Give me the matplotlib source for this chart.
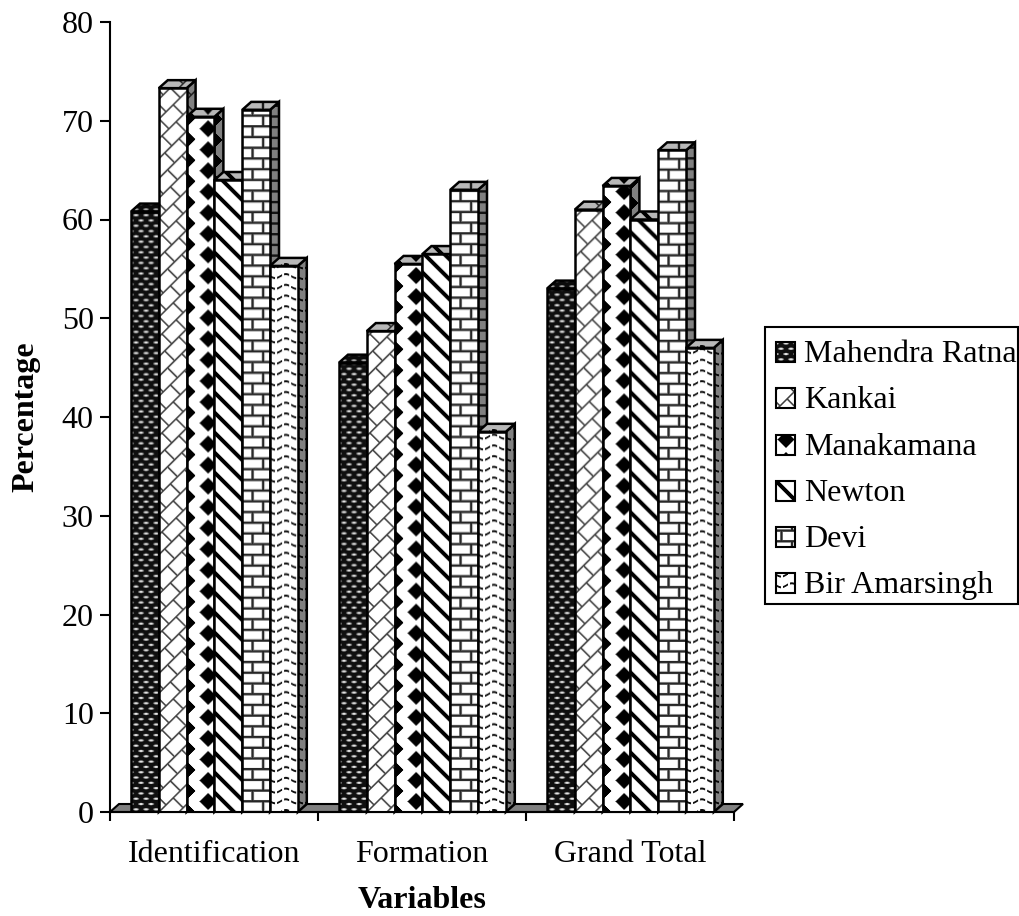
import numpy as np
import matplotlib
matplotlib.use('Agg')
import matplotlib.pyplot as plt
from matplotlib.patches import Polygon, Rectangle

plt.rcParams['font.family'] = ['Liberation Serif', 'DejaVu Serif']

categories = ["Identification", "Formation", "Grand Total"]
schools = ["Mahendra Ratna", "Kankai", "Manakamana", "Newton", "Devi", "Bir Amarsingh"]

mahendra_ratna = [60.8, 45.5, 53.0]
kankai = [73.3, 48.7, 61.0]
manakamana = [70.4, 55.5, 63.4]
newton = [64.0, 56.5, 60.0]
devi = [71.1, 63.0, 67.0]
bir_amarsingh = [55.3, 38.5, 47.0]

series = [mahendra_ratna, kankai, manakamana, newton, devi, bir_amarsingh]
y_ticks = [0, 10, 20, 30, 40, 50, 60, 70, 80]

W, H = 1019, 916
LEFT, RIGHT, BASE, TOP = 110, 734, 812, 22
px_x = (RIGHT - LEFT) / 3
px_y = (BASE - TOP) / 80
bar_w = 27.8 / px_x
group_start = 21 / px_x
dx = 9 / px_x
dy = 8 / px_y
LW = 1.5
BAR_LW = 1.8


def soft(d, half):
    # antialiased band: 1 inside distance half, 0 outside
    return np.clip(half - d + 0.5, 0, 1)


def wrap(x, step):
    # distance to the nearest multiple of step
    m = x % step
    return np.minimum(m, step - m)


def texture(kind, nx, ny, u0=0, v0=0):
    # grey levels for one fill pattern, 1 px per sample, row 0 at the bottom
    u, v = np.meshgrid(np.arange(nx) + 0.5 + u0, np.arange(ny) + 0.5 + v0)
    if kind == "dots":
        row = np.floor(v / 5.3)
        cu = (u + 5 * (row % 2)) % 10 - 5
        cv = v % 5.3 - 2.65
        return 0.06 + 0.94 * soft(np.sqrt((cu / 2.4) ** 2 + (cv / 1.1) ** 2), 1) * 0.9
    if kind == "trellis":
        a = (u + v) / np.sqrt(2)
        b = (u - v) / np.sqrt(2)
        step = 14
        long_line = soft(wrap(b, step), 0.8)
        band = np.floor(b / step)
        cross = soft(wrap(a + 10 * (band % 2), 20), 0.8)
        return 1 - 0.75 * np.maximum(long_line, cross)
    if kind == "diamonds":
        d1 = np.abs(wrap(u, 42)) + np.abs(wrap(v, 21))
        d2 = np.abs(wrap(u - 21, 42)) + np.abs(wrap(v - 10.5, 21))
        return 1 - soft(np.minimum(d1, d2), 8.5)
    if kind == "stripes":
        return 1 - soft(wrap(u + v, 20), 2.8)
    if kind == "bricks":
        row_h = 10.7
        row = np.floor(v / row_h)
        horiz = soft(wrap(v, row_h), 1.2)
        vert = soft(wrap(u + 10.5 * (row % 2), 21), 1.2)
        return 1 - 0.85 * np.maximum(horiz, vert)
    if kind == "waves":
        row_h = 10.7
        wave = 2.0 * np.sin(2 * np.pi * u / 21)
        line = soft(wrap(v + wave, row_h), 1.0)
        dash = (u % 7 < 5.2) * 1.0
        return 1 - 0.95 * line * dash
    return np.ones_like(u)


def put_texture(ax, kind, x0, y0, w, h, clip, shade, z):
    nx = int(np.ceil(w * px_x)) + 1
    ny = int(np.ceil(h * px_y)) + 1
    img = ax.imshow(texture(kind, nx, ny) * shade, cmap="gray", vmin=0, vmax=1,
                    origin="lower", aspect="auto", interpolation="bilinear",
                    extent=(x0, x0 + nx / px_x, y0, y0 + ny / px_y), zorder=z)
    img.set_clip_path(clip)


kinds = ["dots", "trellis", "diamonds", "stripes", "bricks", "waves"]
key_shift = [(0, 0), (3, 5), (11, -5), (0, 0), (5, 5), (0, 3)]

fig = plt.figure(figsize=(W / 100, H / 100), dpi=100)
ax = fig.add_axes([LEFT / W, 1 - BASE / H, (RIGHT - LEFT) / W, (BASE - TOP) / H])

# floor of the pseudo-3D plot
ax.add_patch(Polygon([(0, 0), (dx, dy), (3 + dx, dy), (3, 0)], closed=True, facecolor="#808080",
                     edgecolor="black", linewidth=LW, zorder=1, clip_on=False))

z = 2
for i, values in enumerate(series):
    for g, value in enumerate(values):
        x = g + group_start + i * bar_w
        base = z + g * 20 + i * 4

        side = Polygon([(x + bar_w, 0), (x + bar_w + dx, dy), (x + bar_w + dx, value + dy), (x + bar_w, value)],
                       closed=True, facecolor="#808080", edgecolor="none", zorder=base, clip_on=False)
        ax.add_patch(side)
        put_texture(ax, kinds[i], x + bar_w, 0, dx, value + dy, side, 0.5, base + 0.1)
        ax.add_patch(Polygon(side.get_xy(), closed=True, fill=False, edgecolor="black",
                             linewidth=BAR_LW, zorder=base + 0.2, clip_on=False))

        top = Polygon([(x, value), (x + dx, value + dy), (x + bar_w + dx, value + dy), (x + bar_w, value)],
                      closed=True, facecolor="#c0c0c0", edgecolor="none", zorder=base + 0.3, clip_on=False)
        ax.add_patch(top)
        put_texture(ax, kinds[i], x, value, bar_w + dx, dy, top, 0.72, base + 0.4)
        ax.add_patch(Polygon(top.get_xy(), closed=True, fill=False, edgecolor="black",
                             linewidth=BAR_LW, zorder=base + 0.5, clip_on=False))

        front = ax.bar(x, value, width=bar_w, align="edge", facecolor="white", edgecolor="none",
                       zorder=base + 0.6)[0]
        put_texture(ax, kinds[i], x, 0, bar_w, value, front, 1.0, base + 0.7)
        ax.add_patch(Rectangle((x, 0), bar_w, value, fill=False, edgecolor="black",
                               linewidth=BAR_LW, zorder=base + 0.8))

ax.set_xlim(0, 3)
ax.set_ylim(0, 80)
for name in ["top", "right"]:
    ax.spines[name].set_visible(False)
for name in ["left", "bottom"]:
    ax.spines[name].set_linewidth(LW)
    ax.spines[name].set_zorder(500)

ax.set_yticks(y_ticks)
ax.tick_params(axis="y", length=7.2, width=LW, labelsize=23, pad=4.5)
ax.set_xticks([0, 1, 2, 3])
ax.set_xticklabels([])
ax.tick_params(axis="x", which="major", length=6.5, width=LW)
ax.set_xticks([0.5, 1.5, 2.5], minor=True)
ax.set_xticklabels(categories, minor=True, fontsize=23)
ax.tick_params(axis="x", which="minor", length=0, pad=20)

# axis titles and legend are placed in figure pixels
over = fig.add_axes([0, 0, 1, 1], facecolor="none")
over.set_xlim(0, W)
over.set_ylim(H, 0)
over.axis("off")
over.text(422, 908.5, "Variables", fontsize=23, fontweight="bold", ha="center", va="baseline")
over.text(26, 417, "Percentage", fontsize=23, fontweight="bold", rotation=90, ha="center", va="center")

over.add_patch(Rectangle((765, 327), 253, 277, facecolor="white", edgecolor="black", linewidth=LW))
key_y = [352, 398, 445, 491, 537, 583]
for name, kind, shift, ky in zip(schools, kinds, key_shift, key_y):
    key = Rectangle((776, ky - 10), 19, 20, fill=False, edgecolor="black", linewidth=LW, zorder=4)
    over.imshow(texture(kind, 19, 20, shift[0], shift[1])[::-1], cmap="gray", vmin=0, vmax=1, aspect="auto",
                extent=(776, 795, ky + 10, ky - 10), zorder=3, interpolation="bilinear")
    over.add_patch(key)
    over.text(804, ky + 2.5, name, fontsize=23, va="center", ha="left")
over.set_xlim(0, W)
over.set_ylim(H, 0)

fig.savefig("out.png", dpi=100)
